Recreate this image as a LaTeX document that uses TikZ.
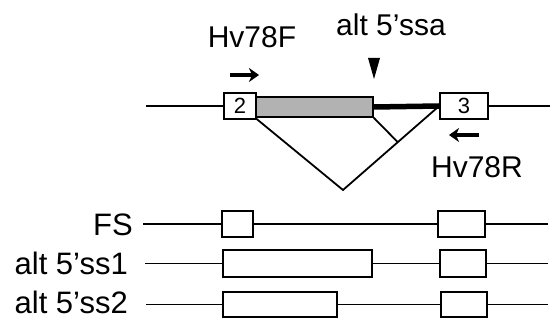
\documentclass[tikz,border=0pt]{standalone}
\usepackage{fontspec}
\setmainfont{Liberation Sans}
\usepackage{tikz}
\usetikzlibrary{positioning}
\usetikzlibrary{arrows.meta}

\definecolor{intronfill}{rgb}{0.70,0.70,0.70}

\tikzset{
  exonbox/.style={draw, fill=white, line width=1.6pt, inner sep=0pt, minimum height=26pt},
  geneline/.style={line width=1.8pt},
  primer/.style={line width=3.6pt, -{Stealth[length=10pt,width=14pt,inset=3pt]}},
  biglabel/.style={font=\fontsize{30}{35}\selectfont, inner sep=0pt},
  rowlabel/.style={font=\fontsize{31}{36}\selectfont, inner sep=0pt, anchor=base east},
  exonnum/.style={font=\fontsize{22}{26}\selectfont}
}

\begin{document}
\begin{tikzpicture}[x=1pt, y=-1pt]
  \useasboundingbox (0,0) rectangle (552,320);

  % gene model with the retained intron
  \coordinate (gstart) at (146,106);
  \coordinate (gend) at (550,106);
  \node[exonbox, minimum width=32pt] (ex2) at (240,106) {};
  \node[exonnum] at (ex2) {2};
  \node[draw, fill=intronfill, line width=1.6pt, inner sep=0pt,
        minimum width=117pt, minimum height=20pt] (retained) at (314.5,107) {};
  \node[exonbox, minimum width=48pt] (ex3) at (464,106) {};
  \node[exonnum] at (ex3) {3};
  \draw[geneline] (gstart) -- (ex2.west);
  \draw[geneline] (ex3.east) -- (gend);
  \draw[line width=5.5pt] (retained.east) -- (ex3.west);

  % splicing
  \coordinate (apex) at (343,190);
  \coordinate (join) at (398,142.4);
  \draw[geneline] (retained.south west) -- (apex) -- (ex3.west);
  \draw[geneline] (retained.south east) -- (join);

  % primers and alt site
  \node[biglabel, anchor=base] (hvf) at (252,48) {Hv78F};
  \coordinate (fa) at (230,75);
  \coordinate (fb) at (259,75);
  \draw[primer] (fa) -- (fb);
  \node[biglabel, anchor=base] (hvr) at (477,178) {Hv78R};
  \coordinate (ra) at (479,135);
  \coordinate (rb) at (449,135);
  \draw[primer] (ra) -- (rb);
  \node[biglabel, anchor=base] (altsite) at (391,36) {alt 5’ssa};
  \fill (368,58) -- (380,58) -- (374,79) -- cycle;

  % isoforms
  \node[rowlabel] (fs) at (133,235.5) {FS};
  \node[exonbox, minimum width=31pt] (fsa) at (237.5,224) {};
  \node[exonbox, minimum width=47pt] (fsb) at (461.5,224) {};
  \coordinate (fsstart) at (143,224);
  \coordinate (fsend) at (548,224);
  \draw[geneline] (fsstart) -- (fsa.west) (fsa.east) -- (fsb.west) (fsb.east) -- (fsend);

  \node[rowlabel] (ssone) at (128,275) {alt 5’ss1};
  \node[exonbox, minimum width=149pt, minimum height=27pt] (ssonea) at (297.5,263.5) {};
  \node[exonbox, minimum width=46pt, minimum height=27pt] (ssoneb) at (463,263.5) {};
  \coordinate (ssonestart) at (145,263.5);
  \coordinate (ssoneend) at (548,263.5);
  \draw[geneline] (ssonestart) -- (ssonea.west) (ssonea.east) -- (ssoneb.west) (ssoneb.east) -- (ssoneend);

  \node[rowlabel] (sstwo) at (128,313.5) {alt 5’ss2};
  \node[exonbox, minimum width=114pt, minimum height=25pt] (sstwoa) at (280,304.5) {};
  \node[exonbox, minimum width=46pt, minimum height=25pt] (sstwob) at (464,304.5) {};
  \coordinate (sstwostart) at (146,304.5);
  \coordinate (sstwoend) at (548,304.5);
  \draw[geneline] (sstwostart) -- (sstwoa.west) (sstwoa.east) -- (sstwob.west) (sstwob.east) -- (sstwoend);
\end{tikzpicture}
\end{document}
